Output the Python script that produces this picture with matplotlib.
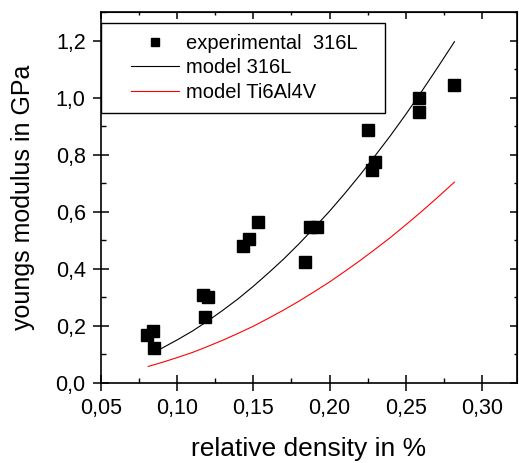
import matplotlib
matplotlib.use("Agg")
import matplotlib.pyplot as plt
from matplotlib.patches import Rectangle
from matplotlib.ticker import MultipleLocator, FuncFormatter

plt.rcParams['font.family'] = ['Liberation Sans', 'DejaVu Sans']

# experimental 316L points
rho_exp = [0.080, 0.084, 0.085, 0.117, 0.120, 0.118, 0.143, 0.147, 0.153,
           0.184, 0.187, 0.192, 0.225, 0.228, 0.230, 0.259, 0.259, 0.282]
E_exp = [0.168, 0.183, 0.121, 0.307, 0.301, 0.233, 0.480, 0.503, 0.564,
         0.423, 0.547, 0.547, 0.885, 0.747, 0.774, 0.997, 0.950, 1.044]

# model curves
rho_316 = [0.085, 0.09, 0.10, 0.11, 0.12, 0.13, 0.14, 0.15, 0.16, 0.17, 0.18,
           0.19, 0.20, 0.21, 0.22, 0.23, 0.24, 0.25, 0.26, 0.27, 0.282]
E_316 = [0.109, 0.122, 0.151, 0.182, 0.217, 0.255, 0.295, 0.339, 0.386, 0.435, 0.488,
         0.544, 0.602, 0.664, 0.729, 0.797, 0.867, 0.941, 1.018, 1.098, 1.196]
rho_ti = [0.081, 0.09, 0.10, 0.11, 0.12, 0.13, 0.14, 0.15, 0.16, 0.17, 0.18,
          0.19, 0.20, 0.21, 0.22, 0.23, 0.24, 0.25, 0.26, 0.27, 0.282]
E_ti = [0.058, 0.072, 0.089, 0.107, 0.128, 0.150, 0.174, 0.199, 0.227, 0.256, 0.287,
        0.320, 0.354, 0.391, 0.429, 0.469, 0.510, 0.554, 0.599, 0.646, 0.704]

comma = FuncFormatter(lambda v, p: ("%.2f" % v).replace(".", ","))
comma1 = FuncFormatter(lambda v, p: ("%.1f" % v).replace(".", ","))

fig = plt.figure(figsize=(5.19, 4.63), dpi=100)
ax = fig.add_axes([0.1946, 0.1728, 0.8014, 0.8012])

ax.plot(rho_exp, E_exp, 's', color='black', markersize=8.5, label='experimental  316L')
ax.plot(rho_316, E_316, '-', color='black', lw=0.8, label='model 316L')
ax.plot(rho_ti, E_ti, '-', color='red', lw=0.8, label='model Ti6Al4V')

ax.set_xlim(0.05, 0.323)
ax.set_ylim(0, 1.3)
ax.xaxis.set_major_locator(MultipleLocator(0.05))
ax.xaxis.set_minor_locator(MultipleLocator(0.025))
ax.yaxis.set_major_locator(MultipleLocator(0.2))
ax.yaxis.set_minor_locator(MultipleLocator(0.1))
ax.xaxis.set_major_formatter(comma)
ax.yaxis.set_major_formatter(comma1)
ax.tick_params(which='major', direction='inout', length=11, width=1.1, pad=5.5, labelsize=15.5)
ax.tick_params(which='minor', direction='in', length=3.6, width=1.0)
for s in ax.spines.values():
    s.set_linewidth(1.2)

# mirrored ticks on top and right, pointing inwards
top = ax.secondary_xaxis('top')
top.xaxis.set_major_locator(MultipleLocator(0.05))
top.xaxis.set_minor_locator(MultipleLocator(0.025))
top.tick_params(which='major', direction='in', length=5, width=1.1, labeltop=False)
top.tick_params(which='minor', direction='in', length=2.5, width=1.0)
right = ax.secondary_yaxis('right')
right.yaxis.set_major_locator(MultipleLocator(0.2))
right.yaxis.set_minor_locator(MultipleLocator(0.1))
right.tick_params(which='major', direction='in', length=5, width=1.1, labelright=False)
right.tick_params(which='minor', direction='in', length=2.5, width=1.0)

ax.set_xlabel('relative density in %', fontsize=19)
ax.set_ylabel('youngs modulus in GPa', fontsize=18)
ax.xaxis.set_label_coords(0.5, -0.146)
ax.yaxis.set_label_coords(-0.158, 0.5)

# legend box: Origin draws it with wide side margins, so the frame is separate
ax.add_patch(Rectangle((0.0, 0.728), 0.683, 0.242, transform=ax.transAxes,
                       facecolor='white', edgecolor='black', lw=1.0, zorder=4))
leg = ax.legend(loc='upper left', bbox_to_anchor=(0.057, 0.958), borderaxespad=0,
                fontsize=14.5, handlelength=2.4, handletextpad=0.35, labelspacing=0.28,
                markerscale=0.7, frameon=False, borderpad=0.3)
leg.set_zorder(5)

fig.savefig('out.png', dpi=100)
